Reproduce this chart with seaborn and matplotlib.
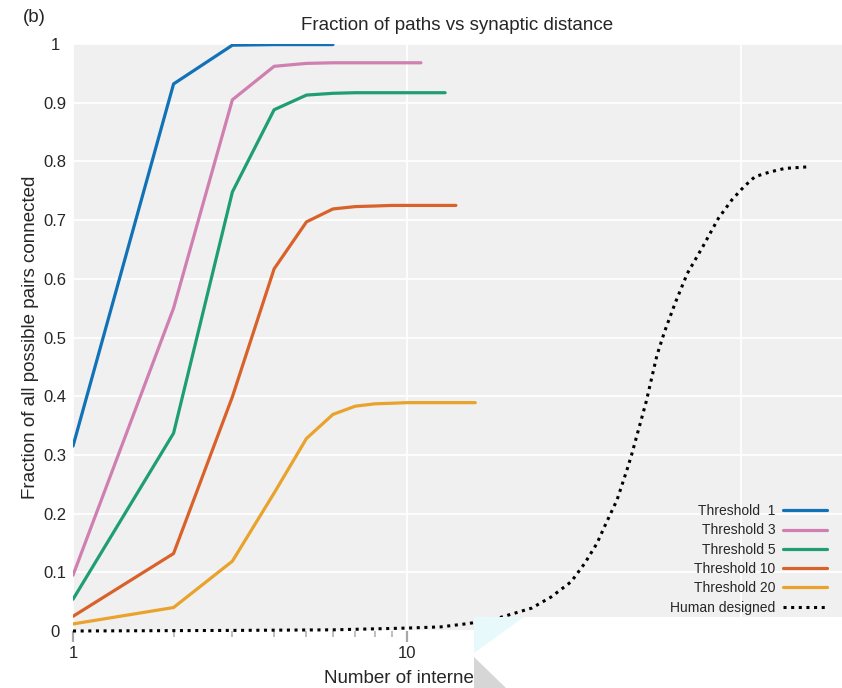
import numpy as np
import pandas as pd
import matplotlib
matplotlib.use('Agg')
import matplotlib.pyplot as plt
import matplotlib.ticker as mticker
from matplotlib.patches import Rectangle, Polygon
import seaborn as sns

# Fraction of connected pairs per threshold (x = 1, 2, 3, ...)
thr1 = [0.315, 0.932, 0.998, 0.999, 0.999, 0.999]
thr3 = [0.095, 0.550, 0.905, 0.962, 0.967, 0.968, 0.968, 0.968, 0.968, 0.968, 0.968]
thr5 = [0.054, 0.337, 0.748, 0.888, 0.913, 0.916, 0.917, 0.917, 0.917, 0.917, 0.917,
        0.917, 0.917]
thr10 = [0.025, 0.132, 0.399, 0.617, 0.697, 0.719, 0.723, 0.724, 0.725, 0.725, 0.725,
         0.725, 0.725, 0.725]
thr20 = [0.012, 0.040, 0.119, 0.235, 0.328, 0.369, 0.383, 0.387, 0.388, 0.389, 0.389,
         0.389, 0.389, 0.389, 0.389, 0.389]

# Human designed curve
human_x = [1, 3, 6, 10, 12.6, 15.4, 19, 23.6, 27, 31, 34, 37, 39.6, 42.5, 45.5, 47,
           52, 56, 59, 63.5, 69, 77, 85.5, 94, 102, 110, 122, 135, 161]
human_y = [0.0, 0.001, 0.002, 0.005, 0.007, 0.013, 0.023, 0.039, 0.058, 0.084, 0.115,
           0.149, 0.186, 0.223, 0.274, 0.300, 0.391, 0.470, 0.510, 0.559, 0.609, 0.656,
           0.703, 0.735, 0.757, 0.774, 0.782, 0.788, 0.791]

labels = ['Threshold  1', 'Threshold 3', 'Threshold 5', 'Threshold 10', 'Threshold 20']
colors = ['#1272b8', '#cf7fb0', '#1f9e72', '#d9622b', '#e9a22c']

sns.set_style('darkgrid', {'axes.facecolor': '#f0f0f0', 'grid.color': 'white'})
plt.rcParams['font.family'] = ['Liberation Sans', 'DejaVu Sans']

fig = plt.figure(figsize=(8.42, 6.88), dpi=100)
ax = fig.add_axes([73 / 842, 57 / 688, 769 / 842, 587 / 688])

for vals, lab, col in zip([thr1, thr3, thr5, thr10, thr20], labels, colors):
    df = pd.DataFrame({'x': np.arange(1, len(vals) + 1), 'y': vals})
    sns.lineplot(data=df, x='x', y='y', ax=ax, color=col, lw=2.3, label=lab)

hdf = pd.DataFrame({'x': human_x, 'y': human_y})
sns.lineplot(data=hdf, x='x', y='y', ax=ax, color='black', lw=2.2,
             dashes=False, label='Human designed')
ax.lines[-1].set_dashes((1, 1.5))
ax.lines[-1].set_clip_on(False)

ax.set_xscale('log')
ax.set_xlim(1, 10 ** 2.302)
ax.set_ylim(0, 1)
ax.set_yticks(np.arange(0, 1.01, 0.1))
ax.yaxis.set_major_formatter(mticker.FuncFormatter(lambda v, p: f'{v:.1f}'.rstrip('0').rstrip('.') if v else '0'))
ax.xaxis.set_major_formatter(mticker.FuncFormatter(lambda v, p: f'{v:g}'))
ax.xaxis.set_minor_formatter(mticker.NullFormatter())
ax.grid(True, which='major', color='white', lw=1.3)
ax.grid(False, which='minor')
for s in ax.spines.values():
    s.set_visible(False)

ax.tick_params(axis='x', which='major', direction='out', length=8, width=1.6,
               color='#a8a8a8', labelsize=12, pad=3, bottom=True)
ax.tick_params(axis='x', which='minor', direction='out', length=4.5, width=1.2,
               color='#b4b4b4', bottom=True)
ax.tick_params(axis='y', length=0, labelsize=12, pad=13)
for t in ax.get_yticklabels():
    t.set_ha('center')

ax.set_title('Fraction of paths vs synaptic distance', fontsize=13.5, pad=10)
ax.set_ylabel('Fraction of all possible pairs connected', fontsize=13.5, labelpad=3)
ax.set_xlabel('Number of interneurons in chain', fontsize=13.5, labelpad=6.5)
fig.text(23 / 842, 1 - 18 / 688, '(b)', fontsize=13.5, va='center', ha='left')

ax.legend(loc='lower right', bbox_to_anchor=(0.9805, 0.028), frameon=False,
          markerfirst=False, fontsize=10, handlelength=3.2, handletextpad=0.5,
          labelspacing=0.38, borderpad=0, borderaxespad=0)

# white overlay in the lower right corner of the picture
x0 = 474 / 842
fig.add_artist(Rectangle((x0, 0), 1 - x0, 71 / 688, transform=fig.transFigure,
                         facecolor='white', edgecolor='none', zorder=20))
fig.add_artist(Polygon([(x0, 71 / 688), (x0 + 50 / 842, 71 / 688), (x0, 35 / 688)],
                       closed=True, transform=fig.transFigure,
                       facecolor='#e8f9fc', edgecolor='none', zorder=21))
fig.add_artist(Polygon([(x0, 0), (x0 + 32 / 842, 0), (x0, 31 / 688)],
                       closed=True, transform=fig.transFigure,
                       facecolor='#d6d6d6', edgecolor='none', zorder=21))

fig.savefig('out.png', dpi=100)
